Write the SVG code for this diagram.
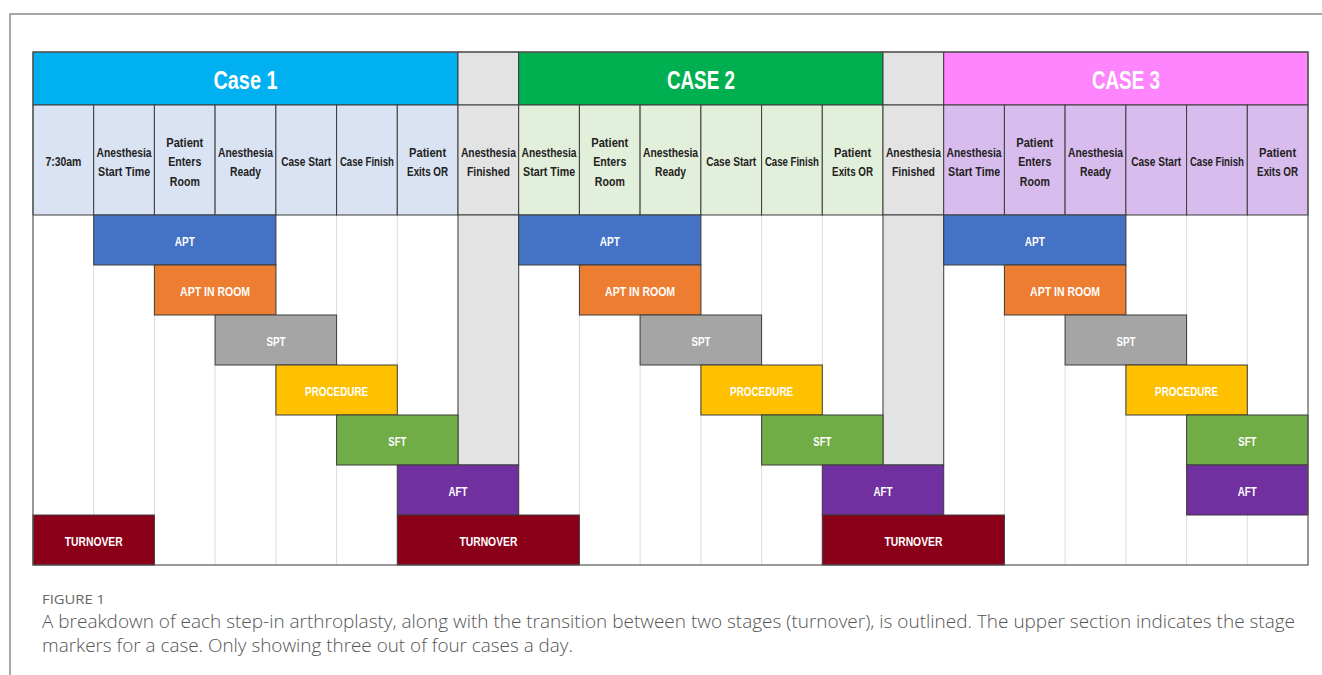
<svg xmlns="http://www.w3.org/2000/svg" width="1322" height="675" viewBox="0 0 1322 675">
<style>
.hd{font-family:"Liberation Sans",Arial,sans-serif;font-weight:bold;font-size:26px;fill:#fff;text-anchor:middle}
.sh{font-family:"Liberation Sans",Arial,sans-serif;font-weight:bold;font-size:13.5px;fill:#222;text-anchor:middle}
.bl{font-family:"Liberation Sans",Arial,sans-serif;font-weight:bold;font-size:12.5px;fill:#fff;text-anchor:middle}
.cell{stroke:#3c3c3c;stroke-width:1}
.bar{stroke:#3c3c3c;stroke-width:1}
.c1{fill:#DAE3F3}.c2{fill:#E2EFDA}.c3{fill:#D9BCEE}.gr{fill:#E3E3E3}
.apt{fill:#4472C4}.air{fill:#ED7D31}.spt{fill:#A5A5A5}.proc{fill:#FFC000}.sft{fill:#70AD47}.aft{fill:#7030A0}.turn{fill:#8B0019}
.grid{stroke:#dcdcdc;stroke-width:1}
.cap1{font-family:"Open Sans","Liberation Sans",sans-serif;font-size:13px;fill:#666}
.cap{font-family:"Open Sans","Liberation Sans",sans-serif;font-weight:300;font-size:18px;fill:#555}
</style>
<rect x="0" y="0" width="1322" height="675" fill="#fff"/>
<path d="M10,675 V14 H1322" fill="none" stroke="#8a8a8a" stroke-width="1.5"/>

<g id="grid">
<path class="grid" d="M93.7,215V565M154.4,215V565M215.1,215V565M275.9,215V565M336.6,215V565M397.3,215V565M458,215V565M518.7,215V565M579.4,215V565M640.1,215V565M700.9,215V565M761.6,215V565M822.3,215V565M883,215V565M943.7,215V565M1004.4,215V565M1065.1,215V565M1125.9,215V565M1186.6,215V565M1247.3,215V565"/>
</g>

<g id="headers">
<g id="case1-header"><rect class="cell" x="33" y="52" width="425" height="53" fill="#00B0F0"/><text class="hd" x="245.5" y="89" textLength="64" lengthAdjust="spacingAndGlyphs">Case 1</text></g>
<g id="gap1-header"><rect class="cell gr" x="458" y="52" width="60.7" height="53"/></g>
<g id="case2-header"><rect class="cell" x="518.7" y="52" width="364.3" height="53" fill="#00B050"/><text class="hd" x="700.9" y="89" textLength="68" lengthAdjust="spacingAndGlyphs">CASE 2</text></g>
<g id="gap2-header"><rect class="cell gr" x="883" y="52" width="60.7" height="53"/></g>
<g id="case3-header"><rect class="cell" x="943.7" y="52" width="364.3" height="53" fill="#FF85FF"/><text class="hd" x="1125.9" y="89" textLength="68" lengthAdjust="spacingAndGlyphs">CASE 3</text></g>
</g>

<g id="subheaders">
<g id="s0"><rect class="cell c1" x="33" y="105" width="60.7" height="110"/><text class="sh" x="63.4" y="165.5" textLength="36" lengthAdjust="spacingAndGlyphs">7:30am</text></g>
<g id="s1"><rect class="cell c1" x="93.7" y="105" width="60.7" height="110"/><text class="sh" x="124.1" y="156.5" textLength="55" lengthAdjust="spacingAndGlyphs">Anesthesia</text><text class="sh" x="124.1" y="175.5" textLength="52" lengthAdjust="spacingAndGlyphs">Start Time</text></g>
<g id="s2"><rect class="cell c1" x="154.4" y="105" width="60.7" height="110"/><text class="sh" x="184.8" y="147" textLength="37" lengthAdjust="spacingAndGlyphs">Patient</text><text class="sh" x="184.8" y="166" textLength="33" lengthAdjust="spacingAndGlyphs">Enters</text><text class="sh" x="184.8" y="186" textLength="30" lengthAdjust="spacingAndGlyphs">Room</text></g>
<g id="s3"><rect class="cell c1" x="215.1" y="105" width="60.8" height="110"/><text class="sh" x="245.5" y="156.5" textLength="55" lengthAdjust="spacingAndGlyphs">Anesthesia</text><text class="sh" x="245.5" y="175.5" textLength="31" lengthAdjust="spacingAndGlyphs">Ready</text></g>
<g id="s4"><rect class="cell c1" x="275.9" y="105" width="60.7" height="110"/><text class="sh" x="306.2" y="165.5" textLength="50" lengthAdjust="spacingAndGlyphs">Case Start</text></g>
<g id="s5"><rect class="cell c1" x="336.6" y="105" width="60.7" height="110"/><text class="sh" x="366.9" y="165.5" textLength="54" lengthAdjust="spacingAndGlyphs">Case Finish</text></g>
<g id="s6"><rect class="cell c1" x="397.3" y="105" width="60.7" height="110"/><text class="sh" x="427.6" y="156.5" textLength="37" lengthAdjust="spacingAndGlyphs">Patient</text><text class="sh" x="427.6" y="175.5" textLength="41" lengthAdjust="spacingAndGlyphs">Exits OR</text></g>
<g id="s7"><rect class="cell gr" x="458" y="105" width="60.7" height="110"/><text class="sh" x="488.4" y="156.5" textLength="55" lengthAdjust="spacingAndGlyphs">Anesthesia</text><text class="sh" x="488.4" y="175.5" textLength="43" lengthAdjust="spacingAndGlyphs">Finished</text></g>
<g id="s8"><rect class="cell c2" x="518.7" y="105" width="60.7" height="110"/><text class="sh" x="549.1" y="156.5" textLength="55" lengthAdjust="spacingAndGlyphs">Anesthesia</text><text class="sh" x="549.1" y="175.5" textLength="52" lengthAdjust="spacingAndGlyphs">Start Time</text></g>
<g id="s9"><rect class="cell c2" x="579.4" y="105" width="60.7" height="110"/><text class="sh" x="609.8" y="147" textLength="37" lengthAdjust="spacingAndGlyphs">Patient</text><text class="sh" x="609.8" y="166" textLength="33" lengthAdjust="spacingAndGlyphs">Enters</text><text class="sh" x="609.8" y="186" textLength="30" lengthAdjust="spacingAndGlyphs">Room</text></g>
<g id="s10"><rect class="cell c2" x="640.1" y="105" width="60.8" height="110"/><text class="sh" x="670.5" y="156.5" textLength="55" lengthAdjust="spacingAndGlyphs">Anesthesia</text><text class="sh" x="670.5" y="175.5" textLength="31" lengthAdjust="spacingAndGlyphs">Ready</text></g>
<g id="s11"><rect class="cell c2" x="700.9" y="105" width="60.7" height="110"/><text class="sh" x="731.2" y="165.5" textLength="50" lengthAdjust="spacingAndGlyphs">Case Start</text></g>
<g id="s12"><rect class="cell c2" x="761.6" y="105" width="60.7" height="110"/><text class="sh" x="791.9" y="165.5" textLength="54" lengthAdjust="spacingAndGlyphs">Case Finish</text></g>
<g id="s13"><rect class="cell c2" x="822.3" y="105" width="60.7" height="110"/><text class="sh" x="852.6" y="156.5" textLength="37" lengthAdjust="spacingAndGlyphs">Patient</text><text class="sh" x="852.6" y="175.5" textLength="41" lengthAdjust="spacingAndGlyphs">Exits OR</text></g>
<g id="s14"><rect class="cell gr" x="883" y="105" width="60.7" height="110"/><text class="sh" x="913.4" y="156.5" textLength="55" lengthAdjust="spacingAndGlyphs">Anesthesia</text><text class="sh" x="913.4" y="175.5" textLength="43" lengthAdjust="spacingAndGlyphs">Finished</text></g>
<g id="s15"><rect class="cell c3" x="943.7" y="105" width="60.7" height="110"/><text class="sh" x="974.1" y="156.5" textLength="55" lengthAdjust="spacingAndGlyphs">Anesthesia</text><text class="sh" x="974.1" y="175.5" textLength="52" lengthAdjust="spacingAndGlyphs">Start Time</text></g>
<g id="s16"><rect class="cell c3" x="1004.4" y="105" width="60.7" height="110"/><text class="sh" x="1034.8" y="147" textLength="37" lengthAdjust="spacingAndGlyphs">Patient</text><text class="sh" x="1034.8" y="166" textLength="33" lengthAdjust="spacingAndGlyphs">Enters</text><text class="sh" x="1034.8" y="186" textLength="30" lengthAdjust="spacingAndGlyphs">Room</text></g>
<g id="s17"><rect class="cell c3" x="1065.1" y="105" width="60.8" height="110"/><text class="sh" x="1095.5" y="156.5" textLength="55" lengthAdjust="spacingAndGlyphs">Anesthesia</text><text class="sh" x="1095.5" y="175.5" textLength="31" lengthAdjust="spacingAndGlyphs">Ready</text></g>
<g id="s18"><rect class="cell c3" x="1125.9" y="105" width="60.7" height="110"/><text class="sh" x="1156.2" y="165.5" textLength="50" lengthAdjust="spacingAndGlyphs">Case Start</text></g>
<g id="s19"><rect class="cell c3" x="1186.6" y="105" width="60.7" height="110"/><text class="sh" x="1216.9" y="165.5" textLength="54" lengthAdjust="spacingAndGlyphs">Case Finish</text></g>
<g id="s20"><rect class="cell c3" x="1247.3" y="105" width="60.7" height="110"/><text class="sh" x="1277.6" y="156.5" textLength="37" lengthAdjust="spacingAndGlyphs">Patient</text><text class="sh" x="1277.6" y="175.5" textLength="41" lengthAdjust="spacingAndGlyphs">Exits OR</text></g>
</g>

<g id="gapcols">
<rect class="cell gr" x="458" y="215" width="60.7" height="250"/>
<rect class="cell gr" x="883" y="215" width="60.7" height="250"/>
</g>

<g id="case1">
<g id="c1-apt"><rect class="bar apt" x="93.7" y="215" width="182.2" height="50"/><text class="bl" x="184.8" y="246" textLength="20" lengthAdjust="spacingAndGlyphs">APT</text></g>
<g id="c1-air"><rect class="bar air" x="154.4" y="265" width="121.5" height="50"/><text class="bl" x="215.1" y="296" textLength="70" lengthAdjust="spacingAndGlyphs">APT IN ROOM</text></g>
<g id="c1-spt"><rect class="bar spt" x="215.1" y="315" width="121.5" height="50"/><text class="bl" x="275.9" y="346" textLength="19" lengthAdjust="spacingAndGlyphs">SPT</text></g>
<g id="c1-proc"><rect class="bar proc" x="275.9" y="365" width="121.4" height="50"/><text class="bl" x="336.6" y="396" textLength="63" lengthAdjust="spacingAndGlyphs">PROCEDURE</text></g>
<g id="c1-sft"><rect class="bar sft" x="336.6" y="415" width="121.4" height="50"/><text class="bl" x="397.3" y="446" textLength="18" lengthAdjust="spacingAndGlyphs">SFT</text></g>
<g id="c1-aft"><rect class="bar aft" x="397.3" y="465" width="121.4" height="50"/><text class="bl" x="458" y="496" textLength="19" lengthAdjust="spacingAndGlyphs">AFT</text></g>
<g id="turn0"><rect class="bar turn" x="33" y="515" width="121.4" height="50"/><text class="bl" x="93.7" y="546" textLength="58" lengthAdjust="spacingAndGlyphs">TURNOVER</text></g>
<g id="turn1"><rect class="bar turn" x="397.3" y="515" width="182.1" height="50"/><text class="bl" x="488.4" y="546" textLength="58" lengthAdjust="spacingAndGlyphs">TURNOVER</text></g>
</g>

<g id="case2">
<g id="c2-apt"><rect class="bar apt" x="518.7" y="215" width="182.2" height="50"/><text class="bl" x="609.8" y="246" textLength="20" lengthAdjust="spacingAndGlyphs">APT</text></g>
<g id="c2-air"><rect class="bar air" x="579.4" y="265" width="121.5" height="50"/><text class="bl" x="640.1" y="296" textLength="70" lengthAdjust="spacingAndGlyphs">APT IN ROOM</text></g>
<g id="c2-spt"><rect class="bar spt" x="640.1" y="315" width="121.5" height="50"/><text class="bl" x="700.9" y="346" textLength="19" lengthAdjust="spacingAndGlyphs">SPT</text></g>
<g id="c2-proc"><rect class="bar proc" x="700.9" y="365" width="121.4" height="50"/><text class="bl" x="761.6" y="396" textLength="63" lengthAdjust="spacingAndGlyphs">PROCEDURE</text></g>
<g id="c2-sft"><rect class="bar sft" x="761.6" y="415" width="121.4" height="50"/><text class="bl" x="822.3" y="446" textLength="18" lengthAdjust="spacingAndGlyphs">SFT</text></g>
<g id="c2-aft"><rect class="bar aft" x="822.3" y="465" width="121.4" height="50"/><text class="bl" x="883" y="496" textLength="19" lengthAdjust="spacingAndGlyphs">AFT</text></g>
<g id="turn2"><rect class="bar turn" x="822.3" y="515" width="182.1" height="50"/><text class="bl" x="913.4" y="546" textLength="58" lengthAdjust="spacingAndGlyphs">TURNOVER</text></g>
</g>

<g id="case3">
<g id="c3-apt"><rect class="bar apt" x="943.7" y="215" width="182.2" height="50"/><text class="bl" x="1034.8" y="246" textLength="20" lengthAdjust="spacingAndGlyphs">APT</text></g>
<g id="c3-air"><rect class="bar air" x="1004.4" y="265" width="121.5" height="50"/><text class="bl" x="1065.1" y="296" textLength="70" lengthAdjust="spacingAndGlyphs">APT IN ROOM</text></g>
<g id="c3-spt"><rect class="bar spt" x="1065.1" y="315" width="121.5" height="50"/><text class="bl" x="1125.9" y="346" textLength="19" lengthAdjust="spacingAndGlyphs">SPT</text></g>
<g id="c3-proc"><rect class="bar proc" x="1125.9" y="365" width="121.4" height="50"/><text class="bl" x="1186.6" y="396" textLength="63" lengthAdjust="spacingAndGlyphs">PROCEDURE</text></g>
<g id="c3-sft"><rect class="bar sft" x="1186.6" y="415" width="121.4" height="50"/><text class="bl" x="1247.3" y="446" textLength="18" lengthAdjust="spacingAndGlyphs">SFT</text></g>
<g id="c3-aft"><rect class="bar aft" x="1186.6" y="465" width="121.4" height="50"/><text class="bl" x="1247.3" y="496" textLength="19" lengthAdjust="spacingAndGlyphs">AFT</text></g>
</g>

<g id="connectors"></g>

<g id="frame">
<rect x="33" y="52" width="1275" height="513" fill="none" stroke="#555" stroke-width="1.2"/>
</g>

<g id="caption">
<text class="cap1" x="42" y="604" textLength="63" lengthAdjust="spacingAndGlyphs">FIGURE 1</text>
<text class="cap" x="42" y="628" textLength="1253" lengthAdjust="spacingAndGlyphs">A breakdown of each step-in arthroplasty, along with the transition between two stages (turnover), is outlined. The upper section indicates the stage</text>
<text class="cap" x="42" y="652" textLength="531" lengthAdjust="spacingAndGlyphs">markers for a case. Only showing three out of four cases a day.</text>
</g>
</svg>
